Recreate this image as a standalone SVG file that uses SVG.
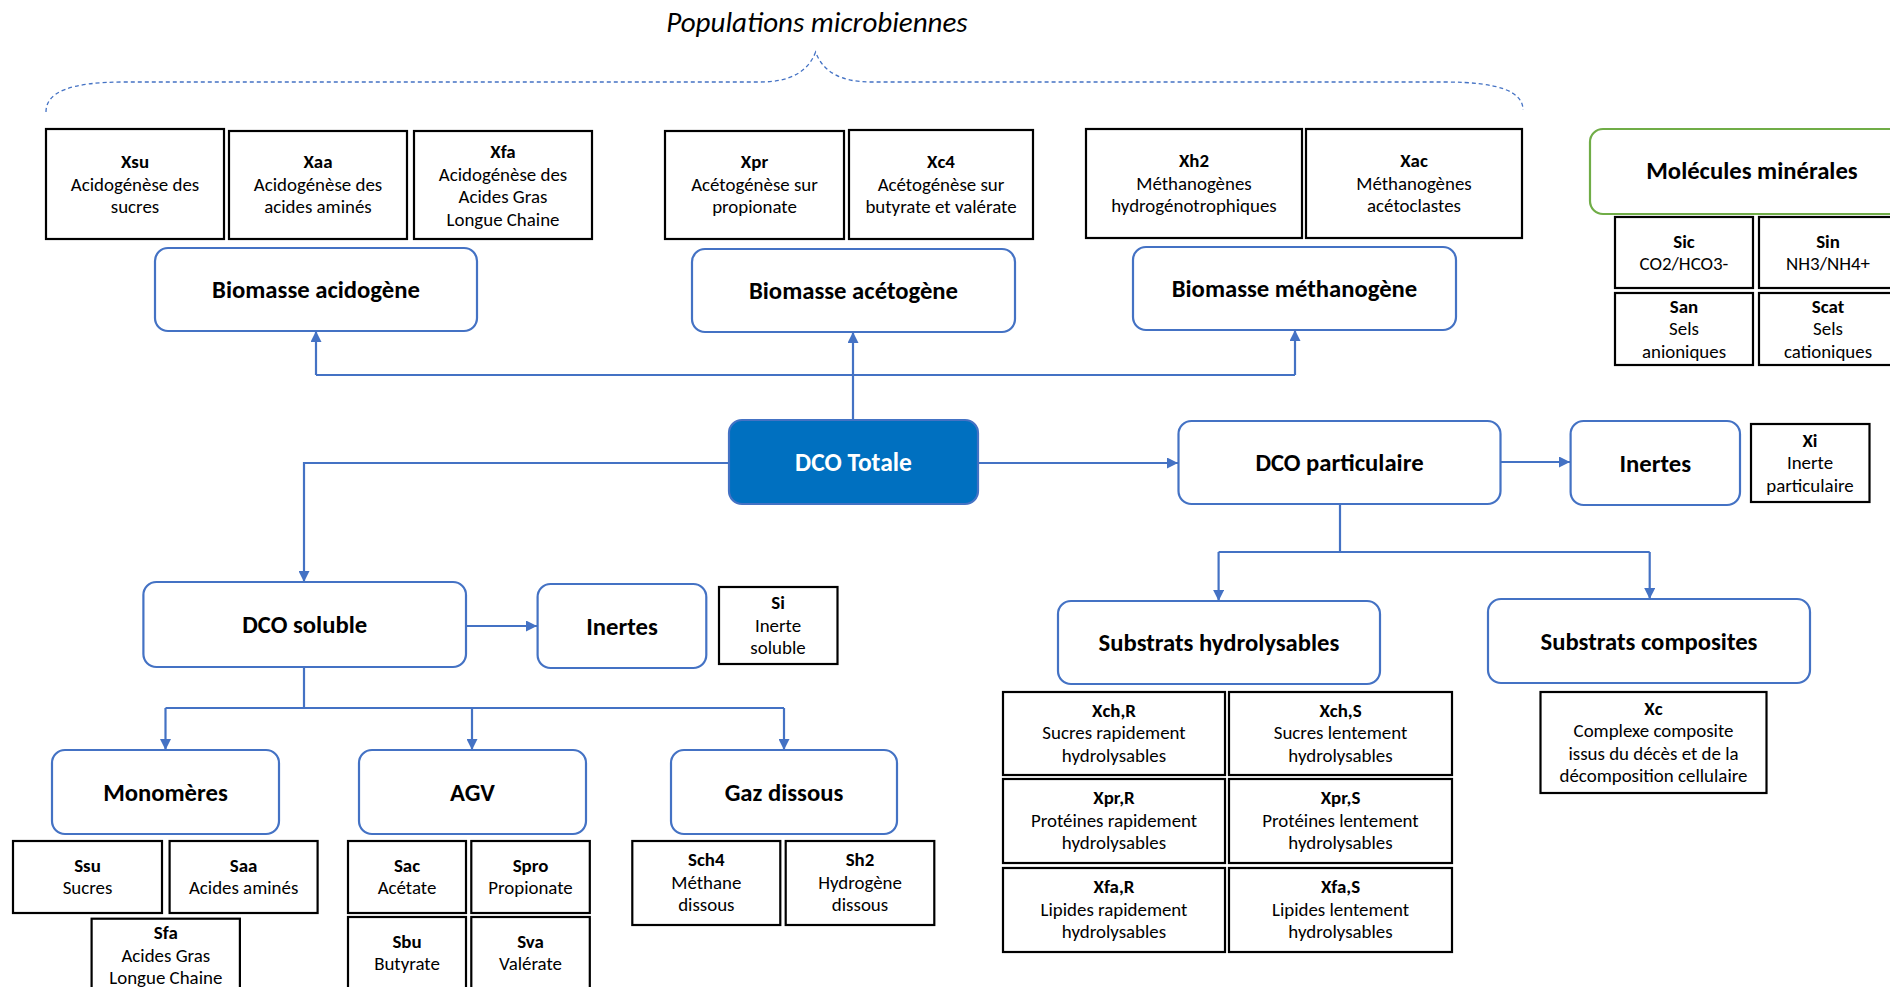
<svg xmlns="http://www.w3.org/2000/svg" width="1890" height="987" viewBox="0 0 1890 987">
<defs>
<marker id="arr" viewBox="0 0 10 10" refX="10" refY="5" markerWidth="11" markerHeight="11" markerUnits="userSpaceOnUse" orient="auto"><path d="M0,0 L10,5 L0,10 z" fill="#4472C4"/></marker>
<style>
.rb{fill:#fff;stroke:#4472C4;stroke-width:2.2}
.rg{fill:#fff;stroke:#70AD47;stroke-width:2.2}
.sq{fill:#fff;stroke:#000;stroke-width:2.2}
.c{fill:none;stroke:#4472C4;stroke-width:2.2}
.ca{fill:none;stroke:#4472C4;stroke-width:2.2;marker-end:url(#arr)}
text{font-family:Carlito,Lato,"Liberation Sans",sans-serif;text-anchor:middle;fill:#000}
.h{font-size:24.7px;font-weight:bold}
.s{font-size:18.9px}
.b{font-weight:bold}
.ttl{font-size:29px;font-style:italic}
</style>
</defs>
<rect width="1890" height="987" fill="#fff"/>
<g id="title">
<text class="ttl" x="817" y="32">Populations microbiennes</text>
<path d="M46,112 C46,92 70,82 125,82 L760,82 C790,82 808,72 815.6,52 C823,72 841,82 871,82 L1445,82 C1500,82 1523,92 1523,110" fill="none" stroke="#4472C4" stroke-width="1.3" stroke-dasharray="4 3"/>
</g>
<g id="connectors">
<path class="ca" d="M853,420 V332"/>
<path class="c" d="M316,375 H1295"/>
<path class="ca" d="M316,375 V331"/>
<path class="ca" d="M1295,375 V330"/>
<path class="ca" d="M729,463 H304 V582"/>
<path class="ca" d="M978,463 H1178"/>
<path class="ca" d="M466,626 H537"/>
<path class="c" d="M304,667 V708 M165.5,708 H784"/>
<path class="ca" d="M165.5,708 V750"/>
<path class="ca" d="M472,708 V750"/>
<path class="ca" d="M784,708 V750"/>
<path class="ca" d="M1500,462 H1570"/>
<path class="c" d="M1340,504 V552 M1218.6,552 H1649.7"/>
<path class="ca" d="M1218.6,552 V601"/>
<path class="ca" d="M1649.7,552 V599"/>
</g>
<g id="Xsu"><rect class="sq" x="46" y="129" width="178" height="110"/><text class="s"><tspan class="b" x="135" y="168">Xsu</tspan><tspan x="135" y="190.5">Acidogénèse des</tspan><tspan x="135" y="213">sucres</tspan></text></g>
<g id="Xaa"><rect class="sq" x="229" y="131" width="178" height="108"/><text class="s"><tspan class="b" x="318" y="168">Xaa</tspan><tspan x="318" y="190.5">Acidogénèse des</tspan><tspan x="318" y="213">acides aminés</tspan></text></g>
<g id="Xfa"><rect class="sq" x="414" y="131" width="178" height="108"/><text class="s"><tspan class="b" x="503" y="158">Xfa</tspan><tspan x="503" y="180.5">Acidogénèse des</tspan><tspan x="503" y="203">Acides Gras</tspan><tspan x="503" y="225.5">Longue Chaine</tspan></text></g>
<g id="Xpr"><rect class="sq" x="665" y="131" width="179" height="108"/><text class="s"><tspan class="b" x="754.5" y="168">Xpr</tspan><tspan x="754.5" y="190.5">Acétogénèse sur</tspan><tspan x="754.5" y="213">propionate</tspan></text></g>
<g id="Xc4"><rect class="sq" x="849" y="130" width="184" height="109"/><text class="s"><tspan class="b" x="941" y="168">Xc4</tspan><tspan x="941" y="190.5">Acétogénèse sur</tspan><tspan x="941" y="213">butyrate et valérate</tspan></text></g>
<g id="Xh2"><rect class="sq" x="1086" y="129" width="216" height="109"/><text class="s"><tspan class="b" x="1194" y="167">Xh2</tspan><tspan x="1194" y="189.5">Méthanogènes</tspan><tspan x="1194" y="212">hydrogénotrophiques</tspan></text></g>
<g id="Xac"><rect class="sq" x="1306" y="129" width="216" height="109"/><text class="s"><tspan class="b" x="1414" y="167">Xac</tspan><tspan x="1414" y="189.5">Méthanogènes</tspan><tspan x="1414" y="212">acétoclastes</tspan></text></g>
<g id="biomasse-acidogene"><rect class="rb" x="155" y="248" width="322" height="83" rx="13"/><text class="h" x="316" y="298">Biomasse acidogène</text></g>
<g id="biomasse-acetogene"><rect class="rb" x="692" y="249" width="323" height="83" rx="13"/><text class="h" x="853.5" y="299">Biomasse acétogène</text></g>
<g id="biomasse-methanogene"><rect class="rb" x="1133" y="247" width="323" height="83" rx="13"/><text class="h" x="1294.5" y="297">Biomasse méthanogène</text></g>
<g id="molecules-minerales"><rect class="rg" x="1590" y="129" width="330" height="85" rx="13"/><text class="h" x="1752" y="179">Molécules minérales</text></g>
<g id="Sic"><rect class="sq" x="1615" y="217" width="138" height="71"/><text class="s"><tspan class="b" x="1684" y="247.5">Sic</tspan><tspan x="1684" y="270">CO2/HCO3-</tspan></text></g>
<g id="Sin"><rect class="sq" x="1759" y="217" width="138" height="71"/><text class="s"><tspan class="b" x="1828" y="247.5">Sin</tspan><tspan x="1828" y="270">NH3/NH4+</tspan></text></g>
<g id="San"><rect class="sq" x="1615" y="293" width="138" height="72"/><text class="s"><tspan class="b" x="1684" y="312.5">San</tspan><tspan x="1684" y="335">Sels</tspan><tspan x="1684" y="357.5">anioniques</tspan></text></g>
<g id="Scat"><rect class="sq" x="1759" y="293" width="138" height="72"/><text class="s"><tspan class="b" x="1828" y="312.5">Scat</tspan><tspan x="1828" y="335">Sels</tspan><tspan x="1828" y="357.5">cationiques</tspan></text></g>
<g id="dco-totale"><rect x="729" y="420" width="249" height="84" rx="13" fill="#0070C0" stroke="#4472C4" stroke-width="2.2"/><text class="h" x="853.5" y="470.5" style="fill:#fff;font-size:25.5px">DCO Totale</text></g>
<g id="dco-particulaire"><rect class="rb" x="1178.5" y="421" width="322" height="83" rx="13"/><text class="h" x="1339.5" y="470.5">DCO particulaire</text></g>
<g id="inertes-particulaire"><rect class="rb" x="1570.6" y="421" width="169.4" height="84" rx="13"/><text class="h" x="1655.3" y="471.5">Inertes</text></g>
<g id="Xi"><rect class="sq" x="1751" y="424" width="118.5" height="78"/><text class="s"><tspan class="b" x="1810" y="446.5">Xi</tspan><tspan x="1810" y="469">Inerte</tspan><tspan x="1810" y="491.5">particulaire</tspan></text></g>
<g id="dco-soluble"><rect class="rb" x="143.4" y="582" width="322.6" height="85" rx="13"/><text class="h" x="304.7" y="633">DCO soluble</text></g>
<g id="inertes-soluble"><rect class="rb" x="537.6" y="584" width="168.7" height="84" rx="13"/><text class="h" x="622" y="634.5">Inertes</text></g>
<g id="Si"><rect class="sq" x="719" y="587" width="118.5" height="77"/><text class="s"><tspan class="b" x="778" y="609">Si</tspan><tspan x="778" y="631.5">Inerte</tspan><tspan x="778" y="654">soluble</tspan></text></g>
<g id="substrats-hydrolysables"><rect class="rb" x="1058" y="601" width="322" height="83" rx="13"/><text class="h" x="1219" y="651">Substrats hydrolysables</text></g>
<g id="substrats-composites"><rect class="rb" x="1488" y="599" width="322" height="84" rx="13"/><text class="h" x="1649" y="649.5">Substrats composites</text></g>
<g id="XchR"><rect class="sq" x="1003" y="692" width="222" height="83"/><text class="s"><tspan class="b" x="1114" y="716.8">Xch,R</tspan><tspan x="1114" y="739.3">Sucres rapidement</tspan><tspan x="1114" y="761.8">hydrolysables</tspan></text></g>
<g id="XchS"><rect class="sq" x="1229" y="692" width="223" height="83"/><text class="s"><tspan class="b" x="1340.5" y="716.8">Xch,S</tspan><tspan x="1340.5" y="739.3">Sucres lentement</tspan><tspan x="1340.5" y="761.8">hydrolysables</tspan></text></g>
<g id="XprR"><rect class="sq" x="1003" y="779" width="222" height="84"/><text class="s"><tspan class="b" x="1114" y="804.3">Xpr,R</tspan><tspan x="1114" y="826.8">Protéines rapidement</tspan><tspan x="1114" y="849.3">hydrolysables</tspan></text></g>
<g id="XprS"><rect class="sq" x="1229" y="779" width="223" height="84"/><text class="s"><tspan class="b" x="1340.5" y="804.3">Xpr,S</tspan><tspan x="1340.5" y="826.8">Protéines lentement</tspan><tspan x="1340.5" y="849.3">hydrolysables</tspan></text></g>
<g id="XfaR"><rect class="sq" x="1003" y="868" width="222" height="84"/><text class="s"><tspan class="b" x="1114" y="893.3">Xfa,R</tspan><tspan x="1114" y="915.8">Lipides rapidement</tspan><tspan x="1114" y="938.3">hydrolysables</tspan></text></g>
<g id="XfaS"><rect class="sq" x="1229" y="868" width="223" height="84"/><text class="s"><tspan class="b" x="1340.5" y="893.3">Xfa,S</tspan><tspan x="1340.5" y="915.8">Lipides lentement</tspan><tspan x="1340.5" y="938.3">hydrolysables</tspan></text></g>
<g id="Xc"><rect class="sq" x="1540.5" y="692" width="226" height="101"/><text class="s"><tspan class="b" x="1653.5" y="714.5">Xc</tspan><tspan x="1653.5" y="737">Complexe composite</tspan><tspan x="1653.5" y="759.5">issus du décès et de la</tspan><tspan x="1653.5" y="782">décomposition cellulaire</tspan></text></g>
<g id="monomeres"><rect class="rb" x="52" y="750" width="227" height="84" rx="13"/><text class="h" x="165.5" y="800.5">Monomères</text></g>
<g id="agv"><rect class="rb" x="359" y="750" width="227" height="84" rx="13"/><text class="h" x="472.5" y="800.5">AGV</text></g>
<g id="gaz-dissous"><rect class="rb" x="671" y="750" width="226" height="84" rx="13"/><text class="h" x="784" y="800.5">Gaz dissous</text></g>
<g id="Ssu"><rect class="sq" x="13" y="841" width="149" height="72"/><text class="s"><tspan class="b" x="87.5" y="871.5">Ssu</tspan><tspan x="87.5" y="894">Sucres</tspan></text></g>
<g id="Saa"><rect class="sq" x="169.6" y="841" width="148" height="72"/><text class="s"><tspan class="b" x="243.6" y="871.5">Saa</tspan><tspan x="243.6" y="894">Acides aminés</tspan></text></g>
<g id="Sfa"><rect class="sq" x="91.6" y="918.7" width="148.3" height="74"/><text class="s"><tspan class="b" x="165.8" y="939">Sfa</tspan><tspan x="165.8" y="961.5">Acides Gras</tspan><tspan x="165.8" y="984">Longue Chaine</tspan></text></g>
<g id="Sac"><rect class="sq" x="348" y="841" width="118" height="72"/><text class="s"><tspan class="b" x="407" y="871.5">Sac</tspan><tspan x="407" y="894">Acétate</tspan></text></g>
<g id="Spro"><rect class="sq" x="471.3" y="841" width="118.5" height="72"/><text class="s"><tspan class="b" x="530.5" y="871.5">Spro</tspan><tspan x="530.5" y="894">Propionate</tspan></text></g>
<g id="Sbu"><rect class="sq" x="348" y="917" width="118" height="72"/><text class="s"><tspan class="b" x="407" y="947.5">Sbu</tspan><tspan x="407" y="970">Butyrate</tspan></text></g>
<g id="Sva"><rect class="sq" x="471.3" y="917" width="118.5" height="72"/><text class="s"><tspan class="b" x="530.5" y="947.5">Sva</tspan><tspan x="530.5" y="970">Valérate</tspan></text></g>
<g id="Sch4"><rect class="sq" x="632.3" y="841" width="148" height="84"/><text class="s"><tspan class="b" x="706.3" y="866.3">Sch4</tspan><tspan x="706.3" y="888.8">Méthane</tspan><tspan x="706.3" y="911.3">dissous</tspan></text></g>
<g id="Sh2"><rect class="sq" x="785.7" y="841" width="148.6" height="84"/><text class="s"><tspan class="b" x="860" y="866.3">Sh2</tspan><tspan x="860" y="888.8">Hydrogène</tspan><tspan x="860" y="911.3">dissous</tspan></text></g>
</svg>
